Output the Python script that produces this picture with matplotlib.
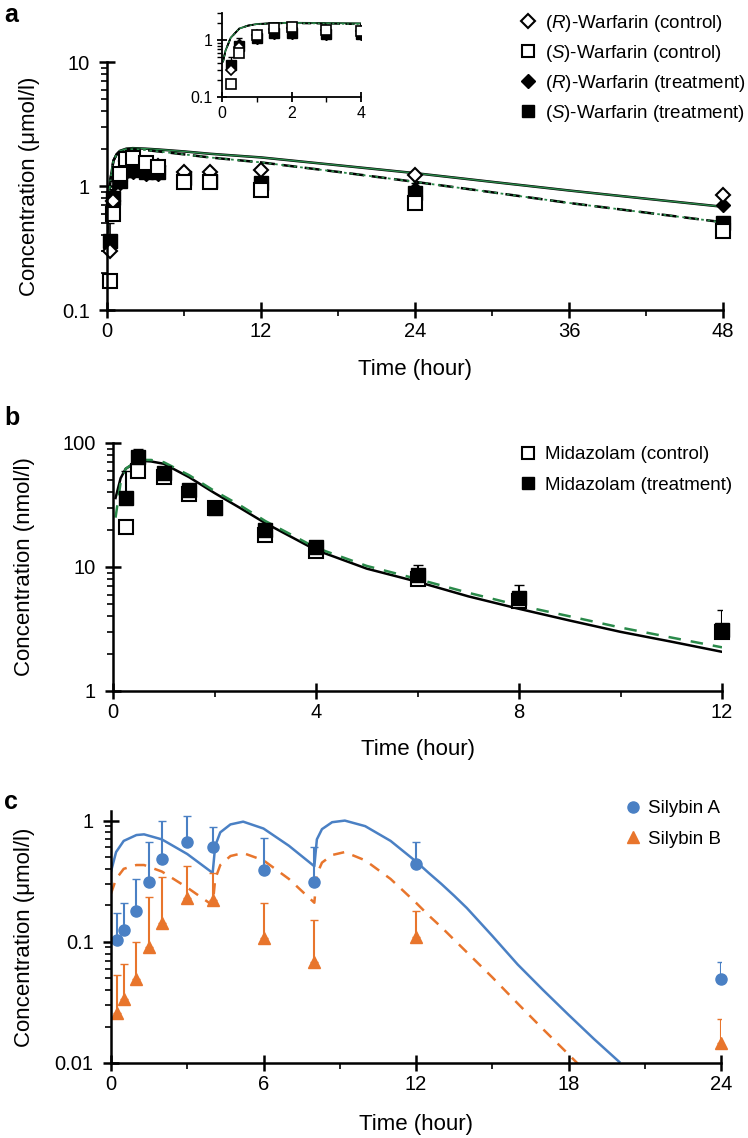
import matplotlib
matplotlib.use("Agg")
import matplotlib.pyplot as plt
from matplotlib.lines import Line2D
from matplotlib.ticker import LogLocator, NullFormatter, FixedLocator
import numpy as np

plt.rcParams['font.family'] = ['Liberation Sans', 'DejaVu Sans']
plt.rcParams['mathtext.fontset'] = 'custom'
plt.rcParams['mathtext.rm'] = 'Liberation Sans'
plt.rcParams['mathtext.it'] = 'Liberation Sans:italic'

# ---- panel a: warfarin ----
t_war = [0.25, 0.5, 1, 1.5, 2, 3, 4, 6, 8, 12, 24, 48]
r_ctrl = [0.3, 0.75, 1.25, 1.6, 1.65, 1.5, 1.45, 1.3, 1.3, 1.35, 1.22, 0.85]
s_ctrl = [0.17, 0.6, 1.25, 1.65, 1.68, 1.53, 1.43, 1.07, 1.07, 0.93, 0.73, 0.43]
r_trt = [0.35, 0.85, 1.05, 1.3, 1.3, 1.25, 1.25, 1.15, 1.1, 1.0, 0.95, 0.7]
s_trt = [0.36, 0.8, 1.1, 1.35, 1.35, 1.3, 1.3, 1.15, 1.1, 1.05, 0.88, 0.5]
s_trt_up = [0.5, 1.1, 1.2, 1.45, 1.45, 1.4, 1.4, 1.25, 1.2, 1.15, 0.98, 0.56]
r_trt_up = [0.4, 0.95, 1.15, 1.4, 1.4, 1.35, 1.35, 1.25, 1.2, 1.1, 1.05, 0.8]

t_mod_a = [0.03, 0.1, 0.25, 0.5, 0.75, 1, 1.5, 2, 3, 4, 6, 8, 12, 18, 24, 30, 36, 42, 48]
mod_r = [0.42, 0.65, 1.1, 1.6, 1.8, 1.92, 2.0, 2.02, 2.0, 1.97, 1.9, 1.82, 1.7, 1.47, 1.27, 1.08, 0.92, 0.79, 0.68]
mod_s = [0.42, 0.65, 1.1, 1.6, 1.8, 1.9, 1.98, 1.98, 1.95, 1.9, 1.8, 1.7, 1.55, 1.3, 1.08, 0.89, 0.73, 0.61, 0.51]

# ---- panel b: midazolam ----
t_mid = [0.25, 0.5, 1, 1.5, 2, 3, 4, 6, 8, 12]
mid_ctrl = [21, 60, 53, 39, 30, 18, 13.5, 8, 5.3, 3.0]
mid_trt = [36, 77, 57, 42, 30, 20, 14.5, 8.6, 5.6, 3.1]
mid_trt_up = [60, 90, 62, 47, 34, 22, 16, 10.4, 7.15, 4.5]

t_mod_b = [0.05, 0.15, 0.25, 0.5, 0.75, 1, 1.5, 2, 2.5, 3, 4, 5, 6, 7, 8, 9, 10, 11, 12]
mod_mid_ctrl = [36, 52, 62, 72, 71, 68, 53, 39.5, 30, 22.6, 13.7, 9.7, 7.6, 5.8, 4.6, 3.7, 3.0, 2.5, 2.07]
mod_mid_trt = [25, 48, 62, 73, 73, 70, 55, 41, 31.5, 23.5, 14.3, 10.2, 8.0, 6.2, 4.9, 4.0, 3.25, 2.7, 2.25]

# ---- panel c: silybin ----
t_sil = [0.25, 0.5, 1, 1.5, 2, 3, 4, 6, 8, 12, 24]
sil_a = [0.104, 0.125, 0.18, 0.31, 0.48, 0.66, 0.6, 0.39, 0.31, 0.44, 0.049]
sil_a_up = [0.174, 0.21, 0.33, 0.66, 1.0, 1.1, 0.89, 0.72, 0.6, 0.67, 0.068]
sil_b = [0.026, 0.034, 0.049, 0.091, 0.144, 0.23, 0.22, 0.108, 0.068, 0.11, 0.0145]
sil_b_up = [0.053, 0.065, 0.1, 0.235, 0.345, 0.42, 0.37, 0.21, 0.15, 0.18, 0.023]

t_mod_c = [0, 0.2, 0.5, 1, 1.3, 2, 3, 4, 4.1, 4.3, 4.7, 5.2, 6, 7, 8, 8.1, 8.3, 8.7, 9.2,
           10, 11, 12, 12.5, 13, 13.5, 14, 15, 16, 17, 18, 19, 20]
mod_a = [0.38, 0.55, 0.68, 0.76, 0.77, 0.7, 0.53, 0.37, 0.62, 0.8, 0.93, 0.98, 0.86, 0.62, 0.42,
         0.7, 0.85, 0.97, 1.0, 0.9, 0.68, 0.46, 0.37, 0.3, 0.24, 0.19, 0.112, 0.065, 0.04, 0.025, 0.0158, 0.0102]
t_mod_c2 = [0, 0.2, 0.5, 1, 1.3, 2, 3, 4, 4.1, 4.3, 4.7, 5.2, 6, 7, 8, 8.1, 8.3, 8.7, 9.2,
            10, 11, 12, 12.5, 13, 13.5, 14, 15, 16, 17, 18, 18.4]
mod_b = [0.25, 0.33, 0.4, 0.43, 0.43, 0.38, 0.28, 0.2, 0.33, 0.43, 0.51, 0.54, 0.47, 0.33, 0.21,
         0.36, 0.45, 0.52, 0.55, 0.47, 0.33, 0.21, 0.165, 0.132, 0.104, 0.082, 0.051, 0.031, 0.019, 0.0118, 0.0097]

green = '#2a8a4a'
blue = '#4a80c4'
orange = '#e8752c'
W, H = 748, 1138


def style(ax, fs=14.5):
    ax.set_yscale('log')
    for s in ['top', 'right']:
        ax.spines[s].set_visible(False)
    for s in ['left', 'bottom']:
        ax.spines[s].set_linewidth(1.8)
    ax.tick_params(which='major', direction='inout', length=11, width=1.8, labelsize=fs)
    ax.tick_params(axis='x', which='major', pad=3)
    ax.tick_params(axis='y', which='major', pad=7)
    ax.tick_params(which='minor', direction='out', length=4.5, width=1.2)
    ax.yaxis.set_minor_locator(LogLocator(base=10, subs=np.arange(2, 10)))
    ax.yaxis.set_minor_formatter(NullFormatter())


def fax(l, r, b, t):
    return [l / W, 1 - b / H, (r - l) / W, (b - t) / H]


fig = plt.figure(figsize=(7.48, 11.38), dpi=100)

# panel a
ax = fig.add_axes(fax(107, 723, 310, 62))
style(ax)
ax.plot(t_mod_a, mod_r, color='black', lw=1.8)
ax.plot(t_mod_a, mod_r, color=green, lw=1.0)
ax.plot(t_mod_a, mod_s, color='black', lw=1.8, ls=(0, (6, 3)))
ax.plot(t_mod_a, mod_s, color=green, lw=1.3, ls=(0, (1.5, 2)))
ax.errorbar(t_war, s_trt, yerr=[np.zeros(len(t_war)), np.array(s_trt_up) - np.array(s_trt)],
            fmt='none', ecolor='black', elinewidth=1.2, capsize=3)
ax.errorbar(t_war, r_trt, yerr=[np.zeros(len(t_war)), np.array(r_trt_up) - np.array(r_trt)],
            fmt='none', ecolor='black', elinewidth=1.2, capsize=3)
ax.plot(t_war, r_trt, 'D', ms=7, color='black', ls='none', clip_on=False)
ax.plot(t_war, s_trt, 's', ms=9.5, color='black', ls='none', clip_on=False)
ax.plot(t_war, r_ctrl, 'D', ms=7, mfc='white', mec='black', mew=1.5, ls='none', clip_on=False)
ax.plot(t_war, s_ctrl, 's', ms=9.5, mfc='white', mec='black', mew=1.5, ls='none', clip_on=False)
ax.set_xlim(0, 48)
ax.set_ylim(0.1, 10)
ax.set_xticks([0, 12, 24, 36, 48])
ax.xaxis.set_minor_locator(FixedLocator([6, 18, 30, 42]))
ax.set_yticks([0.1, 1, 10])
ax.set_yticklabels(['0.1', '1', '10'])
ax.set_xlabel('Time (hour)', fontsize=16)
ax.set_ylabel('Concentration (μmol/l)', fontsize=16)
ax.xaxis.set_label_coords(0.5, -0.198)
ax.yaxis.set_label_coords(-0.109, 0.5)
handles = [
    Line2D([], [], marker='D', ms=7, mfc='white', mec='black', mew=1.5, ls='none'),
    Line2D([], [], marker='s', ms=9, mfc='white', mec='black', mew=1.5, ls='none'),
    Line2D([], [], marker='D', ms=7, color='black', ls='none'),
    Line2D([], [], marker='s', ms=9, color='black', ls='none'),
]
labels = ['($\\it{R}$)-Warfarin (control)', '($\\it{S}$)-Warfarin (control)',
          '($\\it{R}$)-Warfarin (treatment)', '($\\it{S}$)-Warfarin (treatment)']
ax.legend(handles, labels, loc='upper left', bbox_to_anchor=(519 / W, 1 - 13 / H),
          bbox_transform=fig.transFigure, frameon=False, fontsize=13.5, handlelength=1,
          handletextpad=0.4, labelspacing=0.48, borderpad=0, borderaxespad=0)

# inset
ins = fig.add_axes(fax(222, 361, 97, 13))
style(ins, fs=11.5)
ins.tick_params(which='major', length=7, width=1.3, pad=3)
ins.tick_params(which='minor', length=3.5, width=1)
for s in ['left', 'bottom']:
    ins.spines[s].set_linewidth(1.3)
ins.plot(t_mod_a, mod_r, color='black', lw=1.3)
ins.plot(t_mod_a, mod_r, color=green, lw=0.9)
ins.plot(t_mod_a, mod_s, color='black', lw=1.3, ls=(0, (5, 3)))
ins.plot(t_mod_a, mod_s, color=green, lw=1, ls=(0, (1.5, 2)))
ins.errorbar(t_war, s_trt, yerr=[np.zeros(len(t_war)), np.array(s_trt_up) - np.array(s_trt)],
             fmt='none', ecolor='black', elinewidth=1, capsize=2)
ins.plot(t_war, r_trt, 'D', ms=5, color='black', ls='none')
ins.plot(t_war, s_trt, 's', ms=6.5, color='black', ls='none')
ins.plot(t_war, r_ctrl, 'D', ms=5, mfc='white', mec='black', mew=1.2, ls='none')
ins.plot(t_war, s_ctrl, 's', ms=6.5, mfc='white', mec='black', mew=1.2, ls='none')
ins.set_xlim(0, 4)
ins.set_ylim(0.1, 3)
ins.set_xticks([0, 2, 4])
ins.xaxis.set_minor_locator(FixedLocator([1, 3]))
ins.set_yticks([0.1, 1])
ins.set_yticklabels(['0.1', '1'])

# panel b
ax = fig.add_axes(fax(113, 722, 691, 443))
style(ax)
ax.plot(t_mod_b, mod_mid_ctrl, color='black', lw=1.8)
ax.plot(t_mod_b, mod_mid_trt, color=green, lw=1.8, ls=(0, (5, 4)))
ax.plot(t_mid, mid_ctrl, 's', ms=9.5, mfc='white', mec='black', mew=1.5, ls='none', clip_on=False)
ax.errorbar(t_mid, mid_trt, yerr=[np.zeros(len(t_mid)), np.array(mid_trt_up) - np.array(mid_trt)],
            fmt='none', ecolor='black', elinewidth=1.5, capsize=3.5)
ax.plot(t_mid, mid_trt, 's', ms=9.5, color='black', ls='none', clip_on=False)
ax.set_xlim(0, 12)
ax.set_ylim(1, 100)
ax.set_xticks([0, 4, 8, 12])
ax.xaxis.set_minor_locator(FixedLocator([2, 6, 10]))
ax.set_yticks([1, 10, 100])
ax.set_yticklabels(['1', '10', '100'])
ax.set_xlabel('Time (hour)', fontsize=16)
ax.set_ylabel('Concentration (nmol/l)', fontsize=16)
ax.xaxis.set_label_coords(0.5, -0.194)
ax.yaxis.set_label_coords(-0.128, 0.5)
handles = [
    Line2D([], [], marker='s', ms=9, mfc='white', mec='black', mew=1.5, ls='none'),
    Line2D([], [], marker='s', ms=9, color='black', ls='none'),
]
ax.legend(handles, ['Midazolam (control)', 'Midazolam (treatment)'], loc='upper left',
          bbox_to_anchor=(519 / W, 1 - 446 / H), bbox_transform=fig.transFigure, frameon=False,
          fontsize=13.5, handlelength=1, handletextpad=0.4, labelspacing=0.72, borderpad=0,
          borderaxespad=0)

# panel c
ax = fig.add_axes(fax(111, 721, 1063, 811))
style(ax)
ax.plot(t_mod_c, mod_a, color=blue, lw=1.8)
ax.plot(t_mod_c2, mod_b, color=orange, lw=1.8, ls=(0, (4.5, 3.5)))
ax.errorbar(t_sil, sil_a, yerr=[np.zeros(len(t_sil)), np.array(sil_a_up) - np.array(sil_a)],
            fmt='none', ecolor=blue, elinewidth=1.5, capsize=3)
ax.errorbar(t_sil, sil_b, yerr=[np.zeros(len(t_sil)), np.array(sil_b_up) - np.array(sil_b)],
            fmt='none', ecolor=orange, elinewidth=1.5, capsize=3)
ax.plot(t_sil, sil_a, 'o', ms=8, color=blue, ls='none', clip_on=False)
ax.plot(t_sil, sil_b, '^', ms=8, color=orange, ls='none', clip_on=False)
ax.set_xlim(0, 24)
ax.set_ylim(0.01, 1.2)
ax.set_xticks([0, 6, 12, 18, 24])
ax.xaxis.set_minor_locator(FixedLocator([3, 9, 15, 21]))
ax.set_yticks([0.01, 0.1, 1])
ax.set_yticklabels(['0.01', '0.1', '1'])
ax.set_xlabel('Time (hour)', fontsize=16)
ax.set_ylabel('Concentration (μmol/l)', fontsize=16)
ax.xaxis.set_label_coords(0.5, -0.202)
ax.yaxis.set_label_coords(-0.125, 0.5)
handles = [
    Line2D([], [], marker='o', ms=8, color=blue, ls='none'),
    Line2D([], [], marker='^', ms=8, color=orange, ls='none'),
]
ax.legend(handles, ['Silybin A', 'Silybin B'], loc='upper left',
          bbox_to_anchor=(624 / W, 1 - 800 / H), bbox_transform=fig.transFigure, frameon=False,
          fontsize=13.5, handlelength=1, handletextpad=0.3, labelspacing=0.72, borderpad=0,
          borderaxespad=0)

fig.text(4 / W, 1 - 15 / H, 'a', fontsize=18, fontweight='bold', va='center')
fig.text(4 / W, 1 - 418 / H, 'b', fontsize=18, fontweight='bold', va='center')
fig.text(4 / W, 1 - 802 / H, 'c', fontsize=18, fontweight='bold', va='center')

plt.savefig('out.png', dpi=100)
